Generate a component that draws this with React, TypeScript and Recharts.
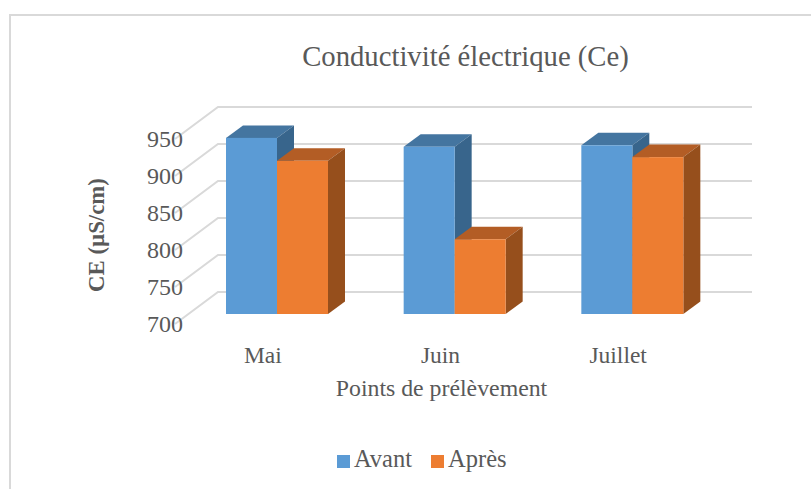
import { BarChart, Bar, XAxis, YAxis, CartesianGrid, Legend } from "recharts";

const months = ["Mai", "Juin", "Juillet"];
const avant = [938, 926, 928];
const apres = [907, 801, 912];
const yTicks = [700, 750, 800, 850, 900, 950];

const chartData = months.map((month, index) => ({
  month,
  avant: avant[index],
  apres: apres[index],
}));

const textColor = "#595959";
const gridColor = "#d9d9d9";
const fontFamily = "'Liberation Serif', serif";

// depth of the fake 3D effect
const depthX = 17;
const depthY = 12.5;

function Bar3D(props: any) {
  const { x, y, width, height, fill, topFill, sideFill } = props;
  const right = x + width;
  const bottom = y + height;
  return (
    <g>
      <polygon
        points={`${x},${y} ${x + depthX},${y - depthY} ${right + depthX},${y - depthY} ${right},${y}`}
        fill={topFill}
      />
      <polygon
        points={`${right},${y} ${right + depthX},${y - depthY} ${right + depthX},${bottom - depthY} ${right},${bottom}`}
        fill={sideFill}
      />
      <rect x={x} y={y} width={width} height={height} fill={fill} />
    </g>
  );
}

// grid line: goes from the front edge of the floor to the back wall, then right
function GridLine3D(props: any) {
  const { x1, x2, y1 } = props;
  const points = [
    [x1 - 13, y1 + 10],
    [x1 + 30, y1 - 22],
    [x2 + 31, y1 - 22],
  ];
  return (
    <polyline
      points={points.map((p) => p.join(",")).join(" ")}
      fill="none"
      stroke={gridColor}
      strokeWidth={2}
    />
  );
}

function YTick(props: any) {
  const { x, y, payload } = props;
  return (
    <text x={x + 3} y={y + 18} textAnchor="end" fontSize={24} fill={textColor} fontFamily={fontFamily}>
      {payload.value}
    </text>
  );
}

function XTick(props: any) {
  const { x, y, payload } = props;
  return (
    <text x={x - 14} y={y + 41} textAnchor="middle" fontSize={23.5} fill={textColor} fontFamily={fontFamily}>
      {payload.value}
    </text>
  );
}

export default function App() {
  return (
    <div style={{ position: "absolute", left: 0, top: 0, width: 811, height: 489, overflow: "hidden", background: "#fff" }}>
      <div
        style={{
          position: "absolute",
          left: 9,
          top: 14,
          width: 802,
          height: 475,
          borderTop: `2px solid ${gridColor}`,
          borderLeft: `2px solid ${gridColor}`,
          boxSizing: "border-box",
        }}
      />
      <BarChart
        width={811}
        height={489}
        data={chartData}
        margin={{ top: 129, right: 90, bottom: 174, left: 187 }}
        barCategoryGap={38}
        barGap={0}
        style={{ position: "absolute", left: 0, top: 0 }}
      >
        <CartesianGrid vertical={false} horizontal={(p: any) => <GridLine3D key={p.y1} {...p} />} />
        <XAxis
          dataKey="month"
          axisLine={false}
          tickLine={false}
          tick={<XTick />}
          interval={0}
          height={1}
        />
        <YAxis
          domain={[700, 950]}
          ticks={yTicks}
          axisLine={false}
          tickLine={false}
          tick={<YTick />}
          width={1}
          interval={0}
        />
        <Bar
          dataKey="avant"
          name="Avant"
          fill="#5B9BD5"
          isAnimationActive={false}
          shape={(p: any) => <Bar3D {...p} fill="#5B9BD5" topFill="#4475A0" sideFill="#38658C" />}
        />
        <Bar
          dataKey="apres"
          name="Après"
          fill="#ED7D31"
          isAnimationActive={false}
          shape={(p: any) => <Bar3D {...p} fill="#ED7D31" topFill="#B35D25" sideFill="#964F1C" />}
        />
        <Legend
          layout="horizontal"
          align="center"
          verticalAlign="middle"
          iconType="square"
          iconSize={13}
          itemSorter={null}
          wrapperStyle={{
            position: "absolute",
            left: 337,
            top: 445,
            width: "auto",
            fontFamily,
            fontSize: 24.5,
          }}
          formatter={(value: string) => (
            <span style={{ color: textColor, marginLeft: 0, marginRight: 9 }}>{value}</span>
          )}
        />
        <text x={465.5} y={66} textAnchor="middle" fontSize={28.7} fill={textColor} fontFamily={fontFamily}>
          Conductivité électrique (Ce)
        </text>
        <text x={441.5} y={396} textAnchor="middle" fontSize={23.8} fill={textColor} fontFamily={fontFamily}>
          Points de prélèvement
        </text>
        <text
          x={104}
          y={235}
          transform="rotate(-90 104 235)"
          textAnchor="middle"
          fontSize={22.8}
          fontWeight="bold"
          fill={textColor}
          fontFamily={fontFamily}
        >
          CE (µS/cm)
        </text>
      </BarChart>
    </div>
  );
}
